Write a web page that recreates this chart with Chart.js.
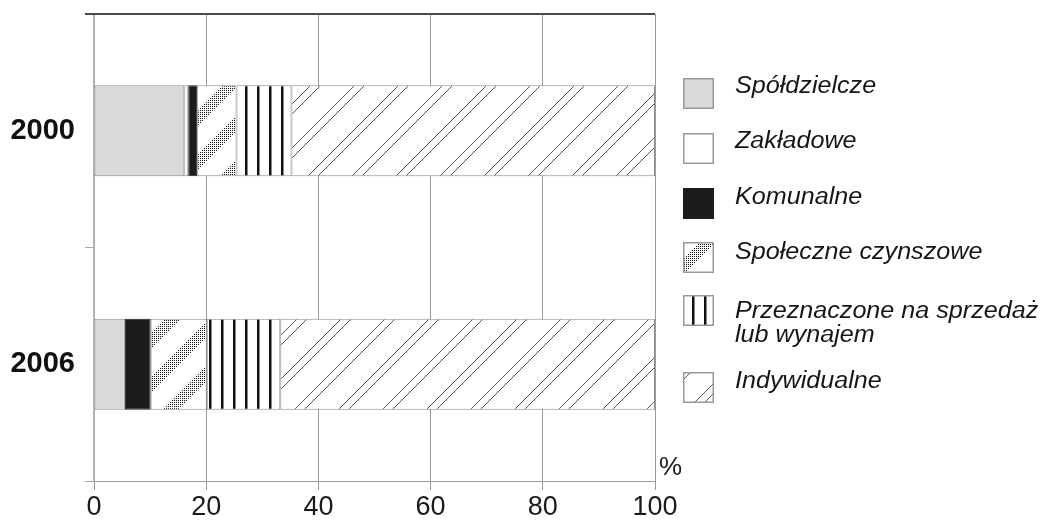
<!DOCTYPE html>
<html><head><meta charset="utf-8">
<script src="https://cdn.jsdelivr.net/npm/chart.js@4.4.1/dist/chart.umd.min.js"></script>
<style>
html,body{margin:0;padding:0;background:#fff;}
#wrap{position:relative;width:1047px;height:521px;overflow:hidden;}
#c{position:absolute;left:0;top:0;}
.sw{position:absolute;left:683px;width:31px;height:31px;}
.lt{position:absolute;left:735px;font-family:"Liberation Sans",Arial,sans-serif;font-style:italic;font-size:23.5px;line-height:24.5px;color:#161616;white-space:nowrap;transform:scaleX(1.07);transform-origin:0 0;}
#pct{position:absolute;left:659px;top:451px;font-family:"Liberation Sans",Arial,sans-serif;font-size:26px;color:#1a1a1a;}
</style></head><body>
<div id="wrap"><canvas id="c" width="1047" height="521"></canvas><div id="legend"></div><div id="pct">%</div></div>
<script>
// ---- data ----
const categories = ['2000', '2006'];
const seriesNames = ['Spółdzielcze', 'Zakładowe', 'Komunalne', 'Społeczne czynszowe', 'Przeznaczone na sprzedaż\nlub wynajem', 'Indywidualne'];
const spoldzielcze = [16.1, 5.5];
const zakladowe = [0.7, 0];
const komunalne = [1.6, 4.6];
const spoleczne = [7.0, 10.0];
const przeznaczone = [9.8, 13.1];
const indywidualne = [64.8, 66.8];
const xTickValues = [0, 20, 40, 60, 80, 100];
const seriesValues = [spoldzielcze, zakladowe, komunalne, spoleczne, przeznaczone, indywidualne];

// ---- patterns ----
function tile(w, h, draw) {
  const c = document.createElement('canvas'); c.width = w; c.height = h;
  const g = c.getContext('2d'); g.fillStyle = '#fff'; g.fillRect(0, 0, w, h); draw(g, w, h); return c;
}
const P = 44;
const tileDots = tile(P, P, g => {
  g.fillStyle = '#111';
  for (let y = 0; y < P; y++) for (let x = 0; x < P; x++) {
    const d = (x + y) % P;
    if (d < 16 && x % 2 === 0 && y % 2 === 0) g.fillRect(x, y, 1, 1);
  }
});
const tileVert = tile(12, 4, g => { g.fillStyle = '#111'; g.fillRect(5, 0, 2, 4); g.fillStyle = '#888'; g.fillRect(7, 0, 1, 4); });
const tileHatch = tile(P, P, g => {
  g.strokeStyle = '#555'; g.lineWidth = 1;
  [0, 10, 44, 54, 88].forEach(c => { g.beginPath(); g.moveTo(c, 0); g.lineTo(c - P, P); g.stroke(); });
});

const ctx = document.getElementById('c').getContext('2d');
const fills = ['#d9d9d9', '#ffffff', '#1c1c1c',
  ctx.createPattern(tileDots, 'repeat'), ctx.createPattern(tileVert, 'repeat'), ctx.createPattern(tileHatch, 'repeat')];
const swatchTiles = ['#d9d9d9', '#ffffff', '#1c1c1c', tileDots, tileVert, tileHatch];
const swatchShift = [0, 0, 0, 17, 4, -2];

const FONT = '"Liberation Sans", Arial, sans-serif';

const topLine = {
  id: 'topLine',
  afterDraw(chart) {
    const a = chart.chartArea, c = chart.ctx;
    c.save(); c.strokeStyle = '#4a4a4a'; c.lineWidth = 2;
    c.beginPath(); c.moveTo(a.left - 9, a.top); c.lineTo(a.right, a.top); c.stroke(); c.restore();
  }
};
function noPad(s) { s.paddingTop = 0; s.paddingBottom = 0; s.paddingLeft = 0; s.paddingRight = 0; }

new Chart(ctx, {
  type: 'bar',
  data: {
    labels: categories,
    datasets: seriesValues.map((d, i) => ({
      label: seriesNames[i], data: d, backgroundColor: fills[i],
      borderColor: i === 2 ? '#1c1c1c' : '#8c8c8c', borderWidth: 1, borderSkipped: false,
      barPercentage: 0.78, categoryPercentage: 0.5
    }))
  },
  options: {
    indexAxis: 'y', responsive: false, animation: false,
    layout: { padding: { left: 0, right: 392, top: 14, bottom: 0 } },
    plugins: { legend: { display: false }, tooltip: { enabled: false } },
    scales: {
      x: {
        stacked: true, min: 0, max: 100,
        afterBuildTicks(s) { s.ticks = xTickValues.map(v => ({ value: v })); },
        ticks: { font: { family: FONT, size: 27 }, color: '#1a1a1a', padding: 1, maxRotation: 0 },
        grid: { color: '#9a9a9a', tickLength: 9, tickColor: '#9a9a9a' },
        border: { color: '#9a9a9a' },
        afterFit(s) { s.height = 40; noPad(s); }
      },
      y: {
        stacked: true,
        ticks: { font: { family: FONT, size: 29, weight: 'bold' }, color: '#111', padding: 10 },
        grid: { drawOnChartArea: false, tickLength: 9, tickColor: '#aaa', offset: true },
        border: { color: '#b0b0b0', width: 2 },
        afterFit(s) { s.width = 94; noPad(s); }
      }
    }
  },
  plugins: [topLine]
});

// ---- HTML legend ----
const boxTops = [78, 133, 188, 242, 295, 372];
const textTops = [72.5, 128, 183.5, 238.5, 297.5, 367.5];
const legend = document.getElementById('legend');
seriesNames.forEach((name, i) => {
  const sw = document.createElement('canvas'); sw.width = 31; sw.height = 31; sw.className = 'sw'; sw.style.top = boxTops[i] + 'px';
  const g = sw.getContext('2d');
  const t = swatchTiles[i];
  g.save(); g.translate(swatchShift[i], 0);
  g.fillStyle = typeof t === 'string' ? t : g.createPattern(t, 'repeat');
  g.fillRect(-swatchShift[i], 0, 31, 31); g.restore();
  g.strokeStyle = i === 2 ? '#1c1c1c' : '#999'; g.lineWidth = 1.5; g.strokeRect(0.75, 0.75, 29.5, 29.5);
  legend.appendChild(sw);
  const tx = document.createElement('div'); tx.className = 'lt'; tx.style.top = textTops[i] + 'px';
  name.split('\n').forEach((line, k) => { if (k) tx.appendChild(document.createElement('br')); tx.appendChild(document.createTextNode(line)); });
  legend.appendChild(tx);
});
</script>
</body></html>
